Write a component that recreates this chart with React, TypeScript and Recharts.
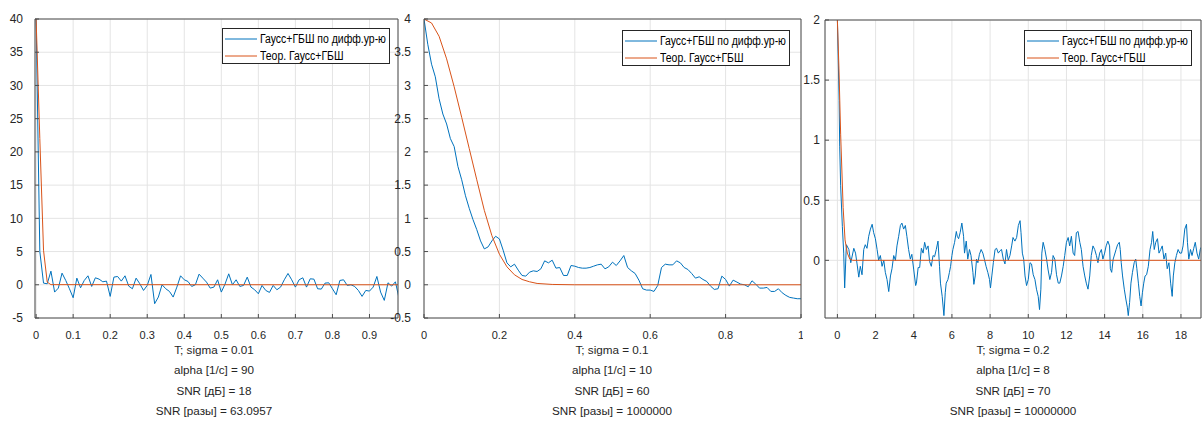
import { LineChart, Line, XAxis, YAxis, CartesianGrid, Legend } from 'recharts';

const FONT = '"Liberation Sans", Arial, sans-serif';
const BLUE = '#0072BD';
const ORANGE = '#D95319';
const AXIS = '#4d4d4d';
const GRID = '#e4e4e4';
const TEXT = '#262626';

const SERIES_NAMES = ['Гаусс+ГБШ по дифф.ур-ю', 'Теор. Гаусс+ГБШ'];

// ---- panel 1: sigma = 0.01, sampled every 0.01 s
const P1_STEP = 0.01;
const P1_BLUE = [
  40, 5, 0.25, 0.15, 2.05, -1.1, -0.5, 1.75, 0.65, -0.6,
  -1.95, 1.0, -0.45, 0.65, 1.35, -0.25, 1.05, 0.85, 0.45, 0.55,
  -1.75, 1.15, 1.25, 0.55, 1.35, -0.2, -0.6, 1.0, 0.15, -0.85,
  -0.1, 1.55, -2.85, -1.85, 0, -0.6, -1.0, -1.85, -0.35, 1.35,
  0.75, 0.5, -0.25, 0, 1.6, 1.0, 0.4, -0.5, -0.35, 0.75,
  -1.1, 0.1, 1.65, 0, 0.75, -0.25, -0.1, 1.15, -0.35, -0.75,
  -1.35, -0.1, -0.85, -1.15, -0.1, -0.75, -0.35, 0.75, 1.7, 0.75,
  -0.35, 0.75, 1.05, -0.35, 0.9, 0.85, -0.6, -0.65, 0.25, 0.3,
  -0.6, -1.5, 0.65, 0.75, -0.1, 0, -0.25, -0.85, -1.75, -0.85,
  -0.95, -0.35, 1.25, -1.1, -2.35, 0.3, -0.2, 0.45, -2.1, -1.0,
];
const P1_ORANGE_T = [0, 0.01, 0.02, 0.03, 0.04, 0.99];
const P1_ORANGE = [40, 22, 5.2, 0.4, 0.02, 0];
const P1_XTICKS = [0, 0.1, 0.2, 0.3, 0.4, 0.5, 0.6, 0.7, 0.8, 0.9];
const P1_YTICKS = [-5, 0, 5, 10, 15, 20, 25, 30, 35, 40];
const P1_CAPTION = ['T; sigma = 0.01', 'alpha [1/с] = 90', 'SNR [дБ] = 18', 'SNR [разы] = 63.0957'];

// ---- panel 2: sigma = 0.1
const P2_STEP = 0.01;
const P2_BLUE = [
  4.0, 3.62, 3.32, 3.13, 2.8, 2.57, 2.42, 2.2, 2.08, 1.78,
  1.58, 1.34, 1.15, 0.98, 0.83, 0.66, 0.54, 0.57, 0.66, 0.73,
  0.69, 0.52, 0.33, 0.27, 0.31, 0.22, 0.14, 0.13, 0.19, 0.21,
  0.2, 0.24, 0.36, 0.33, 0.37, 0.25, 0.26, 0.14, 0.14, 0.29,
  0.28, 0.26, 0.25, 0.25, 0.26, 0.28, 0.3, 0.31, 0.24, 0.27,
  0.34, 0.29, 0.36, 0.44, 0.26, 0.21, 0.17, 0.07, -0.06, -0.08,
  -0.08, -0.1, -0.01, 0.26, 0.31, 0.3, 0.3, 0.36, 0.33, 0.26,
  0.23, 0.17, 0.1, 0.12, 0.08, 0.05, -0.02, -0.07, -0.06, 0.13,
  0.08, -0.02, 0.07, 0.04, 0.01, 0, -0.03, 0.06, 0.01, -0.05,
  -0.05, -0.04, -0.1, -0.1, -0.06, -0.12, -0.16, -0.19, -0.2, -0.21,
  -0.21,
];
const P2_ORANGE_T = [0, 0.02, 0.04, 0.06, 0.08, 0.1, 0.12, 0.14, 0.16, 0.18, 0.2, 0.22, 0.24, 0.26, 0.28, 0.3, 0.34, 0.4, 1.0];
const P2_ORANGE = [4.0, 3.94, 3.74, 3.4, 2.98, 2.52, 2.05, 1.58, 1.12, 0.74, 0.46, 0.27, 0.15, 0.08, 0.045, 0.02, 0.005, 0, 0];
const P2_XTICKS = [0, 0.2, 0.4, 0.6, 0.8, 1];
const P2_YTICKS = [-0.5, 0, 0.5, 1, 1.5, 2, 2.5, 3, 3.5, 4];
const P2_CAPTION = ['T; sigma = 0.1', 'alpha [1/с] = 10', 'SNR [дБ] = 60', 'SNR [разы] = 1000000'];

// ---- panel 3: sigma = 0.2 (irregular time points)
const P3_BLUE_T = [
  0, 0.09, 0.12, 0.17, 0.26, 0.33, 0.38, 0.47, 0.6, 0.7, 0.86, 0.95, 1.03, 1.12, 1.2, 1.29, 1.38, 1.46, 1.55, 1.64,
  1.73, 1.82, 1.9, 1.99, 2.08, 2.16, 2.25, 2.34, 2.43, 2.51, 2.6, 2.69, 2.78, 2.86, 2.95, 3.04, 3.12, 3.21, 3.3, 3.38,
  3.47, 3.56, 3.64, 3.73, 3.82, 3.9, 4.0, 4.1, 4.14, 4.23, 4.31, 4.4, 4.49, 4.57, 4.66, 4.75, 4.83, 4.92, 5.01, 5.09,
  5.18, 5.27, 5.35, 5.4, 5.49, 5.58, 5.65, 5.7, 5.79, 5.87, 5.93, 6.0, 6.05, 6.14, 6.23, 6.28, 6.35, 6.43, 6.52, 6.61,
  6.66, 6.75, 6.83, 6.92, 7.0, 7.1, 7.15, 7.22, 7.29, 7.36, 7.44, 7.53, 7.62, 7.7, 7.79, 7.88, 7.97, 8.02, 8.09, 8.17,
  8.26, 8.34, 8.43, 8.52, 8.6, 8.69, 8.78, 8.86, 8.95, 9.04, 9.13, 9.2, 9.3, 9.39, 9.48, 9.57, 9.62, 9.69, 9.76, 9.83,
  9.91, 10.0, 10.09, 10.17, 10.26, 10.35, 10.43, 10.52, 10.59, 10.66, 10.71, 10.78, 10.87, 10.96, 11.04, 11.13, 11.22, 11.3, 11.39, 11.48,
  11.57, 11.65, 11.74, 11.83, 11.91, 12.0, 12.09, 12.17, 12.26, 12.35, 12.43, 12.52, 12.61, 12.7, 12.78, 12.87, 12.96, 13.04, 13.13, 13.22,
  13.3, 13.39, 13.48, 13.57, 13.65, 13.74, 13.83, 13.91, 14.0, 14.08, 14.17, 14.26, 14.3, 14.37, 14.45, 14.6, 14.68, 14.77, 14.82, 14.87,
  14.94, 15.03, 15.12, 15.19, 15.24, 15.31, 15.38, 15.46, 15.55, 15.63, 15.69, 15.77, 15.84, 15.91, 15.98, 16.05, 16.12, 16.2, 16.29, 16.38,
  16.46, 16.52, 16.6, 16.68, 16.77, 16.85, 16.94, 17.02, 17.11, 17.2, 17.28, 17.37, 17.46, 17.54, 17.6, 17.68, 17.76, 17.85, 17.94, 18.03,
  18.11, 18.2, 18.29, 18.34, 18.41, 18.5, 18.58, 18.67, 18.75, 18.84, 18.93, 19.01, 19.1,
];
const P3_BLUE = [
  2.0, 1.33, 0.95, 0.62, 0.28, 0.06, -0.23, 0.13, 0.09, -0.02, 0.1, 0.06, -0.03, -0.14, -0.05, -0.12, 0.09, 0.13, 0.1, 0.2,
  0.26, 0.3, 0.23, 0.18, 0.09, 0.0, 0.04, -0.05, 0.0, -0.1, -0.16, -0.26, -0.13, -0.07, 0.04, 0.0, 0.12, 0.2, 0.29, 0.31,
  0.26, 0.29, 0.2, 0.09, 0.01, 0.05, -0.08, -0.21, -0.19, -0.06, -0.06, 0.1, 0.06, 0.15, 0.09, 0.12, -0.01, -0.05, 0.04, 0.03,
  0.09, 0.16, -0.05, -0.19, -0.3, -0.46, -0.27, -0.19, -0.16, -0.1, -0.05, 0.04, 0.09, 0.15, 0.24, 0.2, 0.18, 0.23, 0.31, 0.2,
  0.06, 0.16, 0.01, 0.09, 0.04, -0.1, -0.2, -0.13, 0.01, -0.02, 0.05, 0.09, 0.06, 0.01, -0.05, -0.1, -0.16, -0.23, -0.13, -0.02,
  0.09, 0.1, 0.06, 0.08, 0.09, 0.01, -0.03, 0.09, 0.0, 0.04, 0.12, 0.19, 0.16, 0.19, 0.29, 0.33, 0.23, 0.06, 0.01, -0.13,
  -0.21, -0.16, -0.02, -0.03, -0.12, -0.16, -0.24, -0.3, -0.41, -0.24, 0.06, 0.15, 0.09, 0.01, -0.08, -0.16, -0.1, 0.04, 0.01, -0.12,
  -0.19, -0.19, -0.13, -0.05, 0.04, 0.15, 0.19, 0.12, 0.2, 0.06, 0.04, 0.23, 0.24, 0.15, 0.09, -0.05, -0.13, -0.19, -0.24, -0.13,
  0.04, 0.12, 0.09, 0.04, -0.02, 0.06, 0.09, 0.01, 0.06, 0.12, 0.16, 0.12, -0.07, -0.1, 0.01, 0.09, 0.13, 0.15, 0.09, -0.02,
  -0.13, -0.24, -0.33, -0.39, -0.46, -0.35, -0.19, -0.1, -0.02, 0.01, -0.07, -0.19, -0.3, -0.38, -0.27, -0.19, -0.13, -0.12, -0.05, 0.09,
  0.15, 0.24, 0.09, 0.15, 0.18, 0.06, 0.09, 0.12, 0.01, 0.06, -0.07, -0.02, -0.19, -0.3, -0.13, -0.02, 0.04, 0.09, 0.06, 0.06,
  0.12, 0.26, 0.3, 0.15, 0.01, 0.09, 0.04, 0.1, 0.15, 0.06, 0.01, 0.09, 0.12,
];
const P3_ORANGE_T = [0, 0.08, 0.17, 0.3, 0.4, 0.52, 0.65, 0.8, 19.1];
const P3_ORANGE = [2.0, 1.6, 1.05, 0.44, 0.17, 0.06, 0.01, 0, 0];
const P3_XTICKS = [0, 2, 4, 6, 8, 10, 12, 14, 16, 18];
const P3_YTICKS = [0, 0.5, 1, 1.5, 2];
const P3_CAPTION = ['T; sigma = 0.2', 'alpha [1/с] = 8', 'SNR [дБ] = 70', 'SNR [разы] = 10000000'];

type Pt = { t: number; v: number };

const zip = (ts: number[], vs: number[]): Pt[] => vs.map((v, i) => ({ t: ts[i], v }));
const onGrid = (step: number, vs: number[]): Pt[] => vs.map((v, i) => ({ t: +(i * step).toFixed(4), v }));

function BoxLegend({ payload }: any) {
  return (
    <div
      style={{
        border: `1px solid ${TEXT}`,
        background: '#fff',
        width: 168,
        height: 36,
        paddingTop: 2,
        boxSizing: 'border-box',
        fontFamily: FONT,
        fontSize: 12,
        color: '#000',
      }}
    >
      {(payload || []).map((e: any) => (
        <div key={e.value} style={{ display: 'flex', alignItems: 'center', height: 16.5 }}>
          <svg width={37} height={16} style={{ flex: 'none' }}>
            <line x1={2} x2={34} y1={8} y2={8} stroke={e.color} strokeWidth={1} />
          </svg>
          <span
            style={{
              display: 'inline-block',
              whiteSpace: 'nowrap',
              transform: 'scaleX(0.87)',
              transformOrigin: 'left center',
            }}
          >
            {e.value}
          </span>
        </div>
      ))}
    </div>
  );
}

type PanelProps = {
  left: number;
  width: number;
  marginTop: number;
  marginLeft: number;
  yWidth: number;
  yTickMargin: number;
  xDomain: [number, number];
  yDomain: [number, number];
  xTicks: number[];
  yTicks: number[];
  blue: Pt[];
  orange: Pt[];
  legendLeft: number;
  legendTop: number;
};

function Panel(p: PanelProps) {
  const tickStyle = { fill: TEXT, fontSize: 11, fontFamily: FONT };
  return (
    <div style={{ position: 'absolute', left: p.left, top: 0 }}>
      <LineChart width={p.width} height={348} margin={{ top: p.marginTop, right: 1, bottom: 0, left: p.marginLeft }}>
        <CartesianGrid stroke={GRID} />
        <XAxis
          dataKey="t"
          type="number"
          domain={p.xDomain}
          ticks={p.xTicks}
          interval={0}
          allowDataOverflow
          height={30}
          tickSize={-4}
          tickMargin={17}
          tick={tickStyle}
          stroke={AXIS}
        />
        <XAxis
          xAxisId="top"
          orientation="top"
          dataKey="t"
          type="number"
          domain={p.xDomain}
          ticks={p.xTicks}
          interval={0}
          allowDataOverflow
          height={1}
          tickSize={-4}
          tick={false}
          stroke={AXIS}
        />
        <YAxis
          type="number"
          domain={p.yDomain}
          ticks={p.yTicks}
          interval={0}
          allowDataOverflow
          width={p.yWidth}
          tickSize={-4}
          tickMargin={p.yTickMargin}
          tick={{ ...tickStyle, fontSize: 12 }}
          stroke={AXIS}
        />
        <YAxis
          yAxisId="right"
          orientation="right"
          type="number"
          domain={p.yDomain}
          ticks={p.yTicks}
          interval={0}
          allowDataOverflow
          width={1}
          tickSize={-4}
          tick={false}
          stroke={AXIS}
        />
        <Line
          data={p.blue}
          dataKey="v"
          name={SERIES_NAMES[0]}
          type="linear"
          stroke={BLUE}
          strokeWidth={1}
          dot={false}
          isAnimationActive={false}
        />
        <Line
          data={p.orange}
          dataKey="v"
          name={SERIES_NAMES[1]}
          type="linear"
          stroke={ORANGE}
          strokeWidth={1}
          dot={false}
          isAnimationActive={false}
        />
        <Legend
          layout="horizontal"
          align="center"
          verticalAlign="middle"
          content={<BoxLegend />}
          wrapperStyle={{ left: p.legendLeft, top: p.legendTop, width: 'auto', height: 'auto' }}
        />
      </LineChart>
    </div>
  );
}

function Caption({ center, lines }: { center: number; lines: string[] }) {
  return (
    <div
      style={{
        position: 'absolute',
        left: center - 100,
        top: 340,
        width: 200,
        textAlign: 'center',
        fontFamily: FONT,
        fontSize: 11.7,
        lineHeight: '20.4px',
        color: TEXT,
        whiteSpace: 'nowrap',
      }}
    >
      {lines.map((l) => (
        <div key={l}>{l}</div>
      ))}
    </div>
  );
}

export default function App() {
  return (
    <div style={{ position: 'absolute', left: 0, top: 0, width: 1203, height: 424, background: '#fff', overflow: 'hidden' }}>
      <Panel
        left={0}
        width={400}
        marginTop={18}
        marginLeft={5}
        yWidth={30}
        yTickMargin={16}
        xDomain={[-0.003, 0.977]}
        yDomain={[-5, 40]}
        xTicks={P1_XTICKS}
        yTicks={P1_YTICKS}
        blue={onGrid(P1_STEP, P1_BLUE)}
        orange={zip(P1_ORANGE_T, P1_ORANGE)}
        legendLeft={222}
        legendTop={28}
      />
      <Panel
        left={380}
        width={423}
        marginTop={18}
        marginLeft={0}
        yWidth={44}
        yTickMargin={17}
        xDomain={[0, 1]}
        yDomain={[-0.5, 4]}
        xTicks={P2_XTICKS}
        yTicks={P2_YTICKS}
        blue={onGrid(P2_STEP, P2_BLUE)}
        orange={zip(P2_ORANGE_T, P2_ORANGE)}
        legendLeft={242}
        legendTop={30}
      />
      <Panel
        left={790}
        width={413}
        marginTop={19}
        marginLeft={0}
        yWidth={35}
        yTickMargin={9}
        xDomain={[-0.65, 19.05]}
        yDomain={[-0.48, 2]}
        xTicks={P3_XTICKS}
        yTicks={P3_YTICKS}
        blue={zip(P3_BLUE_T, P3_BLUE)}
        orange={zip(P3_ORANGE_T, P3_ORANGE)}
        legendLeft={234}
        legendTop={30}
      />
      <Caption center={214} lines={P1_CAPTION} />
      <Caption center={612} lines={P2_CAPTION} />
      <Caption center={1013} lines={P3_CAPTION} />
    </div>
  );
}
